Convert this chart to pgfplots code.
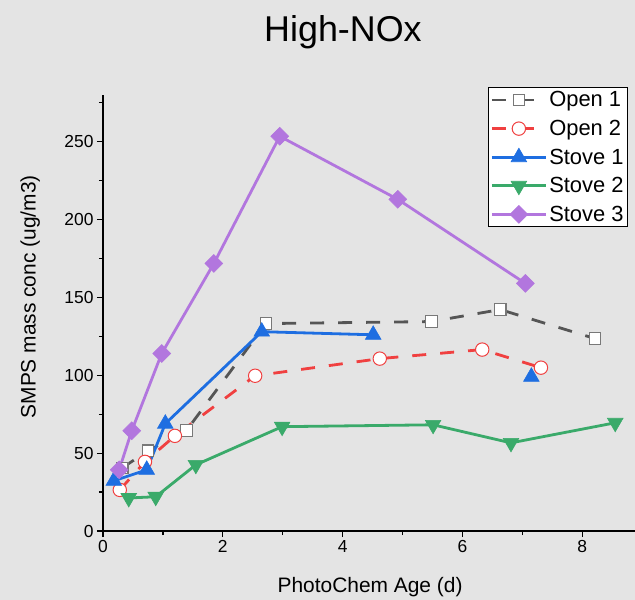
\documentclass[border=0pt]{standalone}
\usepackage{fontspec}
\setmainfont{Liberation Sans}
\usepackage{pgfplots}
\pgfplotsset{compat=1.18}
\definecolor{bg}{RGB}{228,228,228}
\definecolor{cgray}{RGB}{85,85,85}
\definecolor{cgrayb}{RGB}{120,120,120}
\definecolor{cred}{RGB}{240,64,64}
\definecolor{cblue}{RGB}{30,110,225}
\definecolor{cgreen}{RGB}{58,170,106}
\definecolor{cpurple}{RGB}{178,118,222}
\begin{document}
\begin{tikzpicture}
\fill[bg] (-103bp,-69bp) rectangle (532bp,531bp);
\begin{axis}[
 at={(0,0)}, anchor=south west,
 scale only axis, width=532bp, height=436bp,
 xmin=0, xmax=8.88, ymin=0, ymax=280,
 axis x line*=bottom, axis y line*=left,
 axis line style={line width=1.3bp, black},
 xtick={0,2,4,6,8}, minor xtick={1,3,5,7},
 ytick={0,50,...,250}, minor ytick={25,75,...,275},
 tick align=outside, major tick length=6bp, minor tick length=4bp,
 tick style={line width=1.2bp, black},
 ticklabel style={font=\fontsize{17.5}{17.5}\selectfont},
 /pgf/number format/assume math mode=true,
 xlabel={PhotoChem Age (d)}, ylabel={SMPS mass conc (ug/m3)},
 label style={font=\fontsize{21}{21}\selectfont},
 xlabel style={at={(axis description cs:0.502,-0.128)}, anchor=center},
 ylabel style={at={(axis description cs:-0.137,0.537)}, anchor=center},
 title={High-NOx},
 title style={at={(axis description cs:0.451,1.131)}, anchor=center, font=\fontsize{36}{36}\selectfont},
 legend style={at={(0.987,1.018)}, anchor=north east, font=\fontsize{22}{22}\selectfont, draw=black, line width=1bp, fill=white, row sep=7.8bp, inner sep=2bp},
 legend cell align=left,
 legend image code/.code={\draw[mark repeat=2,mark phase=2] plot coordinates {(0bp,0bp) (27bp,0bp) (54bp,0bp)};},
 unbounded coords=jump,
 clip=false,
]
\addplot[cgray, line width=2.8bp, dash pattern=on 14bp off 14bp, mark=square*, mark size=5.8bp, mark options={solid, fill=white, draw=cgrayb, line width=1.1bp}]
 coordinates {(0.32,40.5) (0.75,51.5) (1.39,64.4) (2.72,133.2) (5.48,134.5) (6.63,142.2) (8.21,123.6)};
\addlegendentry{Open 1}
\addplot[cred, line width=2.8bp, dash pattern=on 14bp off 14bp, mark=*, mark size=6.7bp, mark options={solid, fill=white, draw=cred, line width=1bp}]
 coordinates {(0.28,26.4) (0.70,44.4) (1.20,61.1) (2.54,99.7) (4.62,110.7) (6.33,116.5) (7.31,104.9)};
\addlegendentry{Open 2}
\addplot[cblue, line width=2.8bp, mark=triangle*, mark size=9bp, mark options={solid, fill=cblue, line width=0.6bp}]
 coordinates {(0.18,32.2) (0.73,39.3) (1.04,68.9) (2.65,128) (4.51,126) (5.8,nan) (7.15,99)};
\addlegendentry{Stove 1}
\addplot[cgreen, line width=2.8bp, mark=triangle*, mark size=9bp, mark options={solid, rotate=180, fill=cgreen, line width=0.6bp}]
 coordinates {(0.43,21.2) (0.88,22) (1.55,42.5) (2.99,67) (5.51,68.2) (6.81,56.6) (8.55,69.5)};
\addlegendentry{Stove 2}
\addplot[cpurple, line width=2.8bp, mark=square*, mark size=6.3bp, mark options={solid, rotate=45, fill=cpurple, line width=0.6bp}]
 coordinates {(0.27,39.3) (0.48,64.4) (0.98,114) (1.85,171.8) (2.95,253.5) (4.92,213) (7.05,159)};
\addlegendentry{Stove 3}
\end{axis}
\pgfresetboundingbox
\path[use as bounding box] (-103bp,-69bp) rectangle (532bp,531bp);
\end{tikzpicture}
\end{document}
